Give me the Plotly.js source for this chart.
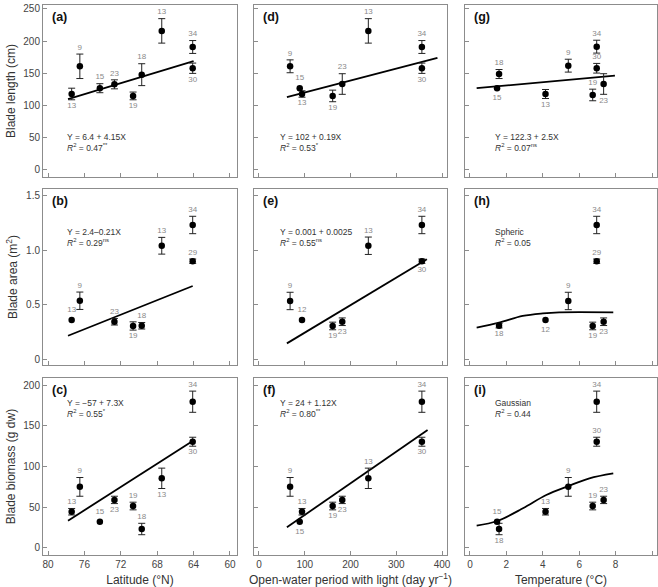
<!DOCTYPE html>
<html><head><meta charset="utf-8">
<script src="https://cdn.plot.ly/plotly-3.0.1.min.js"></script>
<style>html,body{margin:0;padding:0;background:#fff}#chart{width:658px;height:587px}</style>
</head><body><div id="chart"></div>
<script>
// ---------- Panel (a): Blade length vs Latitude ----------
const aX = [77.4, 76.5, 74.3, 72.7, 70.65, 69.7, 67.5, 64.1, 64.1];
const aY = [118, 161, 127, 133, 115, 148, 216, 191, 158];
const aErr = [9, 19, 7, 7, 6, 17, 19, 10, 8];
const aLab = ['13','9','15','23','19','18','13','34','30'];
const aPos = ['b','t','t','t','b','t','t','t','b'];
const aFitX = [77.8, 64.0];
const aFitY = [110, 169];

// ---------- Panel (b): Blade area vs Latitude ----------
const bX = [77.4, 76.5, 72.7, 70.65, 69.7, 67.5, 64.1, 64.1];
const bY = [0.36, 0.536, 0.343, 0.304, 0.306, 1.042, 1.233, 0.90];
const bErr = [0, 0.08, 0.03, 0.038, 0.03, 0.077, 0.08, 0.02];
const bLab = ['13','9','23','19','18','13','34','29'];
const bPos = ['t','t','t','b','t','t','t','t'];
const bFitX = [77.8, 64.1];
const bFitY = [0.214, 0.672];

// ---------- Panel (c): Blade biomass vs Latitude ----------
const cX = [77.4, 76.5, 74.3, 72.7, 70.65, 69.7, 67.5, 64.1, 64.1];
const cY = [44.5, 75, 32.3, 59, 51.5, 23.3, 85.5, 179.5, 130.4];
const cErr = [4, 11.5, 0, 4.5, 4.7, 7, 12.5, 13, 5.5];
const cLab = ['13','9','15','23','19','18','13','34','30'];
const cPos = ['t','t','t','b','t','t','b','t','b'];
const cFitX = [77.8, 64.1];
const cFitY = [33.5, 131.3];

// ---------- Panel (d): Blade length vs open-water period ----------
const dX = [68, 89, 94, 161, 182, 239, 356, 356];
const dY = [161, 127, 118, 115, 133.5, 216, 191, 158];
const dErr = [10, 0, 5, 9, 16, 19, 10, 8];
const dLab = ['9','15','13','19','23','13','34','30'];
const dPos = ['t','t','b','b','t','t','t','b'];
const dFitX = [61, 390];
const dFitY = [113, 174];

// ---------- Panel (e): Blade area vs open-water period ----------
const eX = [68, 94, 161, 182, 239, 356, 356];
const eY = [0.534, 0.36, 0.304, 0.343, 1.042, 1.233, 0.90];
const eErr = [0.08, 0, 0.035, 0.035, 0.08, 0.08, 0.02];
const eLab = ['9','12','19','23','13','34','30'];
const ePos = ['t','t','b','b','t','t','b'];
const eFitX = [61, 367];
const eFitY = [0.144, 0.917];

// ---------- Panel (f): Blade biomass vs open-water period ----------
const fX = [68, 94, 89, 161, 182, 239, 356, 356];
const fY = [75, 44.5, 32.3, 51.5, 59, 85.5, 179.5, 130.4];
const fErr = [11.5, 4, 0, 4.7, 4.5, 12.5, 13, 5.5];
const fLab = ['9','13','15','19','23','13','34','30'];
const fPos = ['t','t','b','b','b','t','t','b'];
const fFitX = [61, 368.5];
const fFitY = [25.4, 144.8];

// ---------- Panel (g): Blade length vs Temperature ----------
const gX = [1.6, 1.49, 4.15, 5.4, 6.96, 6.96, 6.74, 7.34];
const gY = [149, 127, 118, 162, 191.5, 158, 116.5, 133.5];
const gErr = [7, 0, 7, 10, 10, 7.5, 9, 16];
const gLab = ['18','15','13','9','34','30','19','23'];
const gPos = ['t','b','b','t','t','t','t','b'];
const gFitX = [0.37, 7.96];
const gFitY = [127, 146.5];

// ---------- Panel (h): Blade area vs Temperature ----------
const hX = [1.6, 4.15, 5.4, 6.96, 6.96, 6.74, 7.34];
const hY = [0.306, 0.36, 0.534, 1.233, 0.90, 0.304, 0.343];
const hErr = [0.02, 0, 0.08, 0.08, 0.02, 0.035, 0.035];
const hLab = ['18','12','9','34','29','19','23'];
const hPos = ['b','b','t','t','t','b','b'];
const hFitX = [0.37, 1.6, 2.9, 4.0, 4.9, 7.87];
const hFitY = [0.288, 0.334, 0.396, 0.42, 0.43, 0.43];

// ---------- Panel (i): Blade biomass vs Temperature ----------
const iX = [1.49, 1.6, 4.15, 5.4, 6.96, 6.96, 6.74, 7.34];
const iY = [32.3, 23.3, 44.5, 75, 179.5, 130.4, 51.5, 59];
const iErr = [0, 7, 4, 11.5, 13, 5.5, 4.7, 4.5];
const iLab = ['15','18','13','9','34','30','19','23'];
const iPos = ['t','b','t','t','t','t','t','t'];
const iFitX = [0.37, 1.49, 2.91, 4.19, 5.41, 6.56, 7.87];
const iFitY = [27.4, 33.1, 48.7, 65, 76, 85.5, 91.6];

// ---------- Texts ----------
const panelTags = ['(a)','(b)','(c)','(d)','(e)','(f)','(g)','(h)','(i)'];
const eqLine1 = ['Y = 6.4 + 4.15X','Y = 2.4\u20130.21X','Y = \u221257 + 7.3X',
                 'Y = 102 + 0.19X','Y = 0.001 + 0.0025','Y = 24 + 1.12X',
                 'Y = 122.3 + 2.5X','Spheric','Gaussian'];
const eqLine2 = ['<i>R</i><sup>2</sup> = 0.47<sup>**</sup>','<i>R</i><sup>2</sup> = 0.29<sup>ns</sup>','<i>R</i><sup>2</sup> = 0.55<sup>*</sup>',
                 '<i>R</i><sup>2</sup> = 0.53<sup>*</sup>','<i>R</i><sup>2</sup> = 0.55<sup>ns</sup>','<i>R</i><sup>2</sup> = 0.80<sup>**</sup>',
                 '<i>R</i><sup>2</sup> = 0.07<sup>ns</sup>','<i>R</i><sup>2</sup> = 0.05','<i>R</i><sup>2</sup> = 0.44'];
const yTitles = ['Blade length (cm)','Blade area (m<sup>2</sup>)','Blade biomass (g dw)'];
const xTitles = ['Latitude (\u00b0N)','Open-water period with light (day yr<sup>\u22121</sup>)','Temperature (\u00b0C)'];
const xTicks = [[80,76,72,68,64,60],[0,100,200,300,400],[0,2,4,6,8,10]];
const yTickVals = [[0,50,100,150,200,250],[0,0.5,1.0,1.5],[0,50,100,150,200]];
const yTickText = [['0','50','100','150','200','250'],['0','0.5','1.0','1.5'],['0','50','100','150','200']];

// ---------- Layout geometry ----------
const W = 658, H = 587;
const colPx = [[43,237],[254,447],[465,657]];
const rowPx = [[5,177],[189,365],[378,555]];
const xRanges = [[80.55,59.23],[-10.9,410.9],[-0.27,10.27]];
const yRanges = [[-10.9,256.2],[-0.055,1.564],[-8.6,208.6]];

const FONT = 'Liberation Sans, Arial, Helvetica, sans-serif';
const panels = [
  [aX,aY,aErr,aLab,aPos,aFitX,aFitY],[bX,bY,bErr,bLab,bPos,bFitX,bFitY],[cX,cY,cErr,cLab,cPos,cFitX,cFitY],
  [dX,dY,dErr,dLab,dPos,dFitX,dFitY],[eX,eY,eErr,eLab,ePos,eFitX,eFitY],[fX,fY,fErr,fLab,fPos,fFitX,fFitY],
  [gX,gY,gErr,gLab,gPos,gFitX,gFitY],[hX,hY,hErr,hLab,hPos,hFitX,hFitY],[iX,iY,iErr,iLab,iPos,iFitX,iFitY]
];

const traces = [];
const layout = {
  width: W, height: H, margin: {l:0,r:0,t:0,b:0},
  paper_bgcolor: '#fff', plot_bgcolor: '#fff', showlegend: false,
  font: {family: FONT, color: '#333'}, annotations: []
};

panels.forEach((p, k) => {
  const col = Math.floor(k/3), row = k % 3;
  const n = k + 1;
  const xa = n === 1 ? 'x' : 'x' + n, ya = n === 1 ? 'y' : 'y' + n;
  const xKey = n === 1 ? 'xaxis' : 'xaxis' + n, yKey = n === 1 ? 'yaxis' : 'yaxis' + n;
  const [X, Y, E, L, P, FX, FY] = p;

  traces.push({x: FX, y: FY, xaxis: xa, yaxis: ya, mode: 'lines', type: 'scatter',
    line: {color: '#000', width: 1.8, shape: FX.length > 2 ? 'spline' : 'linear'}, hoverinfo: 'skip'});
  traces.push({x: X, y: Y, xaxis: xa, yaxis: ya, mode: 'markers', type: 'scatter',
    marker: {color: '#000', size: 6.5},
    error_y: {type: 'data', array: E.map(e => e > 0 ? e : NaN), visible: true, color: '#222', thickness: 1, width: 3.5}});
  traces.push({x: X, y: Y.map((v, j) => P[j] === 't' ? v + E[j] : v - E[j]), xaxis: xa, yaxis: ya,
    mode: 'markers+text', type: 'scatter', text: L,
    textposition: P.map(s => s === 't' ? 'top center' : 'bottom center'),
    textfont: {family: FONT, size: 8, color: '#8a8a8a'},
    marker: {size: E.map(e => e > 0 ? 2 : 8), opacity: 0}, hoverinfo: 'skip'});

  const cp = colPx[col], rp = rowPx[row];
  layout[xKey] = {
    domain: [cp[0]/W, cp[1]/W], range: xRanges[col], anchor: ya,
    showline: true, mirror: true, linecolor: '#8c8c8c', linewidth: 1,
    ticks: 'inside', ticklen: 4, tickcolor: '#8c8c8c', tickwidth: 1,
    tickmode: 'array', tickvals: xTicks[col],
    showticklabels: row === 2, tickfont: {family: FONT, size: 10, color: '#444'},
    zeroline: false, showgrid: false
  };
  if (row === 2) layout[xKey].title = {text: xTitles[col], font: {family: FONT, size: 12, color: '#333'}, standoff: 7};
  layout[yKey] = {
    domain: [1 - rp[1]/H, 1 - rp[0]/H], range: yRanges[row], anchor: xa,
    showline: true, mirror: true, linecolor: '#8c8c8c', linewidth: 1,
    ticks: 'inside', ticklen: 4, tickcolor: '#8c8c8c', tickwidth: 1,
    tickmode: 'array', tickvals: yTickVals[row], ticktext: yTickText[row],
    showticklabels: col === 0, tickfont: {family: FONT, size: 10, color: '#444'},
    zeroline: false, showgrid: false
  };
  if (col === 0) layout[yKey].title = {text: yTitles[row], font: {family: FONT, size: 12, color: '#333'}, standoff: 5};

  const pw = cp[1] - cp[0], ph = rp[1] - rp[0];
  layout.annotations.push({xref: xa + ' domain', yref: ya + ' domain', x: 7/pw, y: 1 - 3/ph,
    xanchor: 'left', yanchor: 'top', text: '<b>' + panelTags[k] + '</b>', showarrow: false,
    font: {family: FONT, size: 12.5, color: '#111'}});
  const eqX = [22, 24, 28][col];
  const eqY = [131.5, 43.5, 25][row];
  layout.annotations.push({xref: xa + ' domain', yref: ya + ' domain', x: eqX/pw, y: 1 - eqY/ph,
    xanchor: 'left', yanchor: 'middle', text: eqLine1[k], showarrow: false,
    font: {family: FONT, size: 8.5, color: '#333'}});
  layout.annotations.push({xref: xa + ' domain', yref: ya + ' domain', x: eqX/pw, y: 1 - (eqY + 10.5)/ph,
    xanchor: 'left', yanchor: 'middle', text: eqLine2[k], showarrow: false,
    font: {family: FONT, size: 8.5, color: '#333'}});
});

Plotly.newPlot('chart', traces, layout, {displayModeBar: false, staticPlot: true});
</script></body></html>
